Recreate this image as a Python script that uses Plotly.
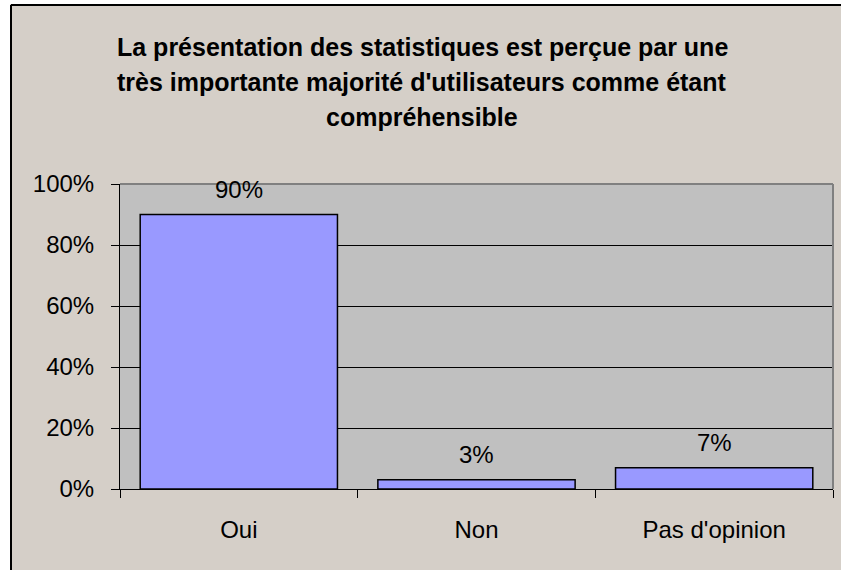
import plotly.graph_objects as go

# Survey answers and shares
categories = ["Oui", "Non", "Pas d'opinion"]
shares = [0.90, 0.03, 0.07]
labels = ["90%", "3%", "7%"]
title_lines = [
    "La présentation des statistiques est perçue par une",
    "très importante majorité d'utilisateurs comme étant",
    "compréhensible",
]
y_ticks = [0, 0.2, 0.4, 0.6, 0.8, 1.0]
y_ticktext = ["0%", "20%", "40%", "60%", "80%", "100%"]

W, H = 841, 570
L, R, T, B = 120, 8, 184, 81
pw, ph = W - L - R, H - T - B
FS = 24


def px_x(p):
    return (p - L) / pw


def px_y(p):
    return (H - B - p) / ph


fig = go.Figure(go.Bar(
    x=categories,
    y=shares,
    width=0.83,
    marker=dict(color="#9999FF", line=dict(color="black", width=1.5)),
    hoverinfo="skip",
))

for cat, val, lab in zip(categories, shares, labels):
    fig.add_annotation(x=cat, y=val, text=lab, showarrow=False,
                       yanchor="bottom", yshift=10,
                       font=dict(size=FS, color="black"))

# title, one annotation per line for the wide line spacing
for i, line in enumerate(title_lines):
    fig.add_annotation(xref="paper", yref="paper", x=px_x(422), y=px_y(47 + 35 * i),
                       text=f"<b>{line}</b>", showarrow=False, yanchor="middle",
                       font=dict(size=25, color="black"))

# plot area frame (top and right, grey)
fig.add_shape(type="line", xref="paper", yref="paper", x0=0, x1=1, y0=1, y1=1,
              line=dict(color="#808080", width=2), layer="above")
fig.add_shape(type="line", xref="paper", yref="paper", x0=1, x1=1, y0=0, y1=1,
              line=dict(color="#808080", width=2), layer="above")

# white margins outside the chart border, then the border itself
fig.add_shape(type="rect", xref="paper", yref="paper",
              x0=px_x(-5), x1=px_x(10), y0=px_y(H + 5), y1=px_y(-5),
              fillcolor="white", line=dict(width=0), layer="below")
fig.add_shape(type="rect", xref="paper", yref="paper",
              x0=px_x(-5), x1=px_x(W + 5), y0=px_y(4), y1=px_y(-5),
              fillcolor="white", line=dict(width=0), layer="below")
fig.add_shape(type="line", xref="paper", yref="paper",
              x0=px_x(11), x1=px_x(11), y0=px_y(5), y1=px_y(H + 5),
              line=dict(color="black", width=2), layer="below")
fig.add_shape(type="line", xref="paper", yref="paper",
              x0=px_x(11), x1=px_x(W + 5), y0=px_y(5), y1=px_y(5),
              line=dict(color="black", width=2), layer="below")

fig.update_layout(
    width=W, height=H,
    margin=dict(l=L, r=R, t=T, b=B),
    paper_bgcolor="#D5CFC8",
    plot_bgcolor="#C0C0C0",
    font=dict(family="Liberation Sans, Arial, sans-serif", size=FS, color="black"),
    showlegend=False,
    xaxis=dict(
        showline=True, linecolor="black", linewidth=1,
        ticks="outside", tickson="boundaries", ticklen=8, tickcolor="black",
        ticklabelstandoff=19, showgrid=False,
        tickfont=dict(size=FS),
    ),
    yaxis=dict(
        range=[0, 1], tickvals=y_ticks, ticktext=y_ticktext,
        showline=True, linecolor="black", linewidth=1,
        ticks="outside", ticklen=8, tickcolor="black",
        ticklabelstandoff=12,
        showgrid=True, gridcolor="black", gridwidth=1, zeroline=False,
        tickfont=dict(size=FS),
    ),
)

fig.write_html("out.html", config={"displayModeBar": False},
               post_script="document.body.style.margin = '0';")
